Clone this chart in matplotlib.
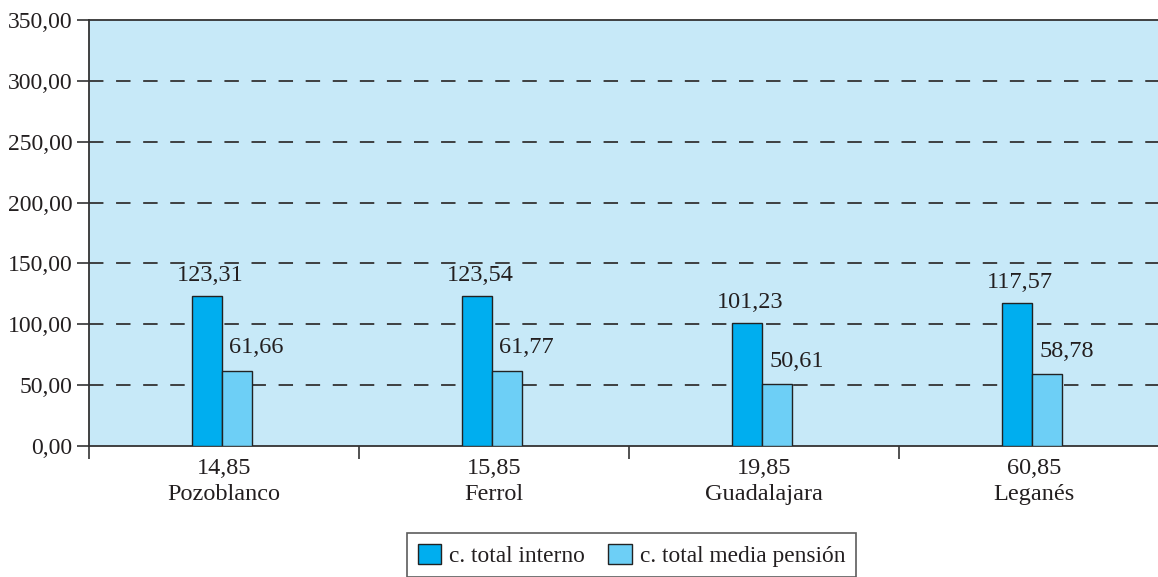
import matplotlib
matplotlib.use('Agg')
import matplotlib.pyplot as plt
import numpy as np
from matplotlib.patches import Patch

plt.rcParams['font.family'] = ['Liberation Serif', 'DejaVu Serif']

ciudades = ['Pozoblanco', 'Ferrol', 'Guadalajara', 'Leganés']
valores_x = ['14,85', '15,85', '19,85', '60,85']
total_interno = [123.31, 123.54, 101.23, 117.57]
media_pension = [61.66, 61.77, 50.61, 58.78]

c_interno = '#00AEEF'
c_media = '#6DCFF6'
fondo = '#C7E9F8'
texto = '#231F20'
fs = 17.5


def fmt(v):
    return ('%.2f' % v).replace('.', ',')


W, H = 1158, 577
fig = plt.figure(figsize=(W / 100, H / 100), dpi=100)
ax = fig.add_axes([89 / W, 1 - 446 / H, 1080 / W, 426 / H])
ax.set_facecolor(fondo)

x = np.arange(len(ciudades))
w = 0.111
b1 = ax.bar(x - w / 2 - 0.007, total_interno, w, color=c_interno,
            edgecolor='#222222', linewidth=1.0, zorder=3)
b2 = ax.bar(x + w / 2 - 0.007, media_pension, w, color=c_media,
            edgecolor='#222222', linewidth=1.0, zorder=3)

for r, v in zip(b1, total_interno):
    ax.annotate(fmt(v), (r.get_x() + r.get_width() / 2, v), xytext=(2, 7),
                textcoords='offset points', ha='center', va='bottom',
                fontsize=fs, color=texto)
for r, v in zip(b2, media_pension):
    ax.annotate(fmt(v), (r.get_x() + r.get_width() / 2, v), xytext=(14, 9),
                textcoords='offset points', ha='center', va='bottom',
                fontsize=fs, color=texto)

ax.set_xlim(-0.5, len(ciudades) - 0.5)
ax.set_ylim(0, 350)
yt = np.arange(0, 351, 50)
ax.set_yticks(yt)
ax.set_yticklabels([fmt(v) for v in yt], fontsize=17, color=texto)
for v in yt[1:-1]:
    ax.axhline(v, color='#333333', linewidth=1.3, dashes=(8, 7), zorder=1)

# category labels without tick marks, tick marks between groups
ax.set_xticks(x)
ax.set_xticklabels([a + '\n' + b for a, b in zip(valores_x, ciudades)],
                   fontsize=fs, color=texto, linespacing=1.3)
ax.tick_params(axis='x', length=0, pad=9)
ax.set_xticks(np.arange(-0.5, len(ciudades), 1.0), minor=True)
ax.tick_params(axis='x', which='minor', length=9, width=1.2, color='#333333',
               direction='out')
ax.tick_params(axis='y', length=9, width=1.2, color='#333333',
               direction='out', pad=3)

for s in ['left', 'bottom', 'top']:
    ax.spines[s].set_color('#333333')
    ax.spines[s].set_linewidth(1.3)
ax.spines['right'].set_visible(False)

handles = [Patch(facecolor=c_interno, edgecolor='#222222', label='c. total interno'),
           Patch(facecolor=c_media, edgecolor='#222222', label='c. total media pensión')]
leg = fig.legend(handles=handles, loc='upper left',
                 bbox_to_anchor=(407 / W, 1 - 533 / H), ncol=2, fontsize=16.8,
                 frameon=True, fancybox=False, edgecolor='#333333',
                 handlelength=1.0, handleheight=1.0, handletextpad=0.35,
                 columnspacing=1.0, borderaxespad=0, borderpad=0.45)
for t in leg.get_texts():
    t.set_color(texto)
leg.get_frame().set_linewidth(1.2)

fig.savefig('out.png', dpi=100)
